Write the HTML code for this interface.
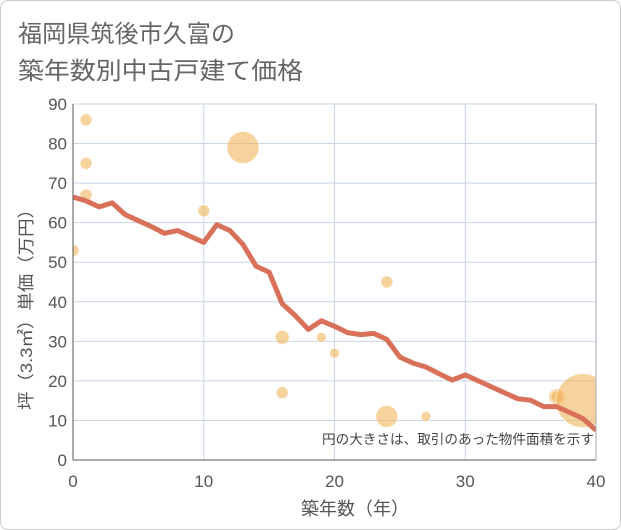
<!DOCTYPE html>
<html><head><meta charset="utf-8"><style>
body{margin:0;background:#fff;}
#wrap{width:619px;height:528px;border:1px solid #ccc;border-radius:8px;position:relative;background:#fff;}
</style></head><body>
<div id="wrap">
<svg id="svg" width="621" height="530" style="position:absolute;left:-1px;top:-1px" font-family="'Liberation Sans','Noto Sans CJK JP',sans-serif">
<text x="18" y="42" font-size="24" fill="#666" textLength="217" lengthAdjust="spacingAndGlyphs">福岡県筑後市久富の</text>
<text x="18" y="79" font-size="24" fill="#666" textLength="285" lengthAdjust="spacingAndGlyphs">築年数別中古戸建て価格</text>
<defs><clipPath id="pc"><rect x="73" y="104" width="523" height="356"/></clipPath></defs>
<g id="grid"></g><g id="bub" clip-path="url(#pc)"></g><g id="ln" clip-path="url(#pc)"></g><g id="ax"></g>
<text x="594" y="444" font-size="13.5" fill="#444" text-anchor="end" textLength="272" lengthAdjust="spacingAndGlyphs">円の大きさは、取引のあった物件面積を示す</text>
<text x="355" y="515" font-size="18" fill="#555" text-anchor="middle">築年数（年）</text>
<text transform="translate(32,305) rotate(-90)" font-size="17" fill="#555" text-anchor="middle" textLength="210" lengthAdjust="spacingAndGlyphs">坪（3.3㎡）単価（万円）</text>
</svg></div>
<script>
const xTicks=[0,10,20,30,40];
const yTicks=[0,10,20,30,40,50,60,70,80,90];
const lineYears=[0,1,2,3,4,5,6,7,8,9,10,11,12,13,14,15,16,17,18,19,20,21,22,23,24,25,26,27,28,29,30,31,32,33,34,35,36,37,38,39,40];
const linePrices=[66.5,65.5,64,65,62,60.5,59,57.3,58,56.5,55,59.5,58,54.5,49,47.5,39.5,36.5,33,35.2,33.8,32.2,31.7,32,30.5,26,24.5,23.5,21.8,20.2,21.5,20,18.5,17,15.5,15.1,13.5,13.5,12,10.5,7.5];
const bubX=[0,1,1,1,10,13,16,16,19,20,24,24,27,37,37,39];
const bubY=[53,86,75,67,63,79,31,17,31,27,45,11,11,16,16,15];
const bubR=[6,6,6,6,6,16,7,6,5,5,6,11,5,8,6,27];
const X=v=>73+v*523/40, Y=v=>460-v*356/90;
const NS='http://www.w3.org/2000/svg';
function mk(t,a,p){const e=document.createElementNS(NS,t);for(const k in a)e.setAttribute(k,a[k]);p.appendChild(e);return e;}
const g=document.getElementById('grid'),ax=document.getElementById('ax');
xTicks.forEach(t=>{if(t>0){const l=mk('line',{x1:X(t),x2:X(t),y1:104,y2:460,stroke:'#c8d6e4'},g);

}
const tx=mk('text',{x:X(t),y:487,'font-size':17,fill:'#555','text-anchor':'middle'},ax);tx.textContent=t;

});
yTicks.forEach(t=>{if(t>0){const l=mk('line',{x1:73,x2:596,y1:Y(t),y2:Y(t),stroke:'#c8d6e4'},g);

}
const tx=mk('text',{x:67,y:Y(t)+6,'font-size':17,fill:'#555','text-anchor':'end'},ax);tx.textContent=t;

});
const a1=mk('line',{x1:73,x2:73,y1:104,y2:460,stroke:'#555'},ax);


const a2=mk('line',{x1:73,x2:596,y1:460,y2:460,stroke:'#555'},ax);


const a3=mk('line',{x1:596,x2:596,y1:104,y2:460,stroke:'#aab'},ax);


const b=document.getElementById('bub');
bubX.forEach((x,i)=>{const c=mk('circle',{cx:X(x),cy:Y(bubY[i]),r:bubR[i],fill:'rgba(240,180,90,0.6)',stroke:'rgba(255,255,255,0.6)'},b);

});
const p=mk('polyline',{points:lineYears.map((x,i)=>X(x)+','+Y(linePrices[i])).join(' '),fill:'none',stroke:'#d9705a','stroke-width':5,'stroke-linejoin':'round'},document.getElementById('ln'));


</script>
</body></html>
